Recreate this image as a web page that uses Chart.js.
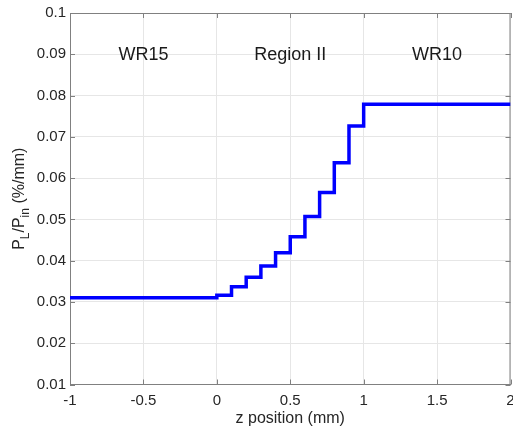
<!DOCTYPE html>
<html>
<head>
<meta charset="UTF-8">
<title>Stepped loss profile</title>
<script src="https://cdn.jsdelivr.net/npm/chart.js"></script>
<style>
  html, body { margin: 0; padding: 0; background: #fff; }
</style>
</head>
<body>
<canvas id="myChart" width="513" height="429"></canvas>
<script>
// data
const zPositions = [-1, 0, 0.1, 0.2, 0.3, 0.4, 0.5, 0.6, 0.7, 0.8, 0.9, 1, 2];
const lossValues = [0.0310, 0.0316, 0.0337, 0.0360, 0.0387, 0.0419, 0.0458, 0.0507, 0.0565, 0.0637, 0.0726, 0.0779, 0.0779];
const xTicks = [-1, -0.5, 0, 0.5, 1, 1.5, 2];
const yTicks = [0.01, 0.02, 0.03, 0.04, 0.05, 0.06, 0.07, 0.08, 0.09, 0.1];
const regionNames = ['WR15', 'Region II', 'WR10'];
const regionCenters = [-0.5, 0.5, 1.5];
const regionLabelLevel = 0.0898;

const FONT = '"Liberation Sans", Arial, Helvetica, sans-serif';
const TXT = '#262626';

// frame, inward ticks and texts (titles with subscripts)
const decorations = {
  id: 'decorations',
  beforeDatasetsDraw(chart) {
    const { ctx, chartArea: a, scales } = chart;
    ctx.save();
    ctx.strokeStyle = '#808080';
    ctx.lineWidth = 1;
    ctx.beginPath();
    ctx.moveTo(a.left, a.top + 0.5); ctx.lineTo(a.right, a.top + 0.5);
    ctx.moveTo(a.right - 0.5, a.top); ctx.lineTo(a.right - 0.5, a.bottom);
    xTicks.forEach(v => {
      const px = Math.round(scales.x.getPixelForValue(v)) + 0.5;
      ctx.moveTo(px, a.bottom); ctx.lineTo(px, a.bottom - 5);
      ctx.moveTo(px, a.top); ctx.lineTo(px, a.top + 5);
    });
    yTicks.forEach(v => {
      const py = Math.round(scales.y.getPixelForValue(v)) + 0.5;
      ctx.moveTo(a.left, py); ctx.lineTo(a.left + 5, py);
      ctx.moveTo(a.right, py); ctx.lineTo(a.right - 5, py);
    });
    ctx.stroke();
    ctx.restore();
  },
  afterDraw(chart) {
    const { ctx, chartArea: a, scales } = chart;
    ctx.save();
    ctx.fillStyle = '#1a1a1a';
    ctx.font = '18px ' + FONT;
    ctx.textAlign = 'center';
    ctx.textBaseline = 'middle';
    regionNames.forEach((name, i) => {
      ctx.fillText(name, scales.x.getPixelForValue(regionCenters[i]), scales.y.getPixelForValue(regionLabelLevel));
    });

    // x title
    ctx.fillStyle = TXT;
    ctx.font = '16px ' + FONT;
    ctx.textBaseline = 'middle';
    ctx.fillText('z position (mm)', (a.left + a.right) / 2, 419);

    // y title: P_L/P_in (%/mm)
    const parts = [
      ['P', 0, 16], ['L', 5, 12], ['/P', 0, 16], ['in', 5, 12], [' (%/mm)', 0, 16]
    ];
    let total = 0;
    parts.forEach(p => { ctx.font = p[2] + 'px ' + FONT; total += ctx.measureText(p[0]).width; });
    ctx.translate(19, (a.top + a.bottom) / 2);
    ctx.rotate(-Math.PI / 2);
    ctx.textAlign = 'left';
    ctx.textBaseline = 'alphabetic';
    let x = -total / 2;
    parts.forEach(p => {
      ctx.font = p[2] + 'px ' + FONT;
      ctx.fillText(p[0], x, 5 + p[1]);
      x += ctx.measureText(p[0]).width;
    });
    ctx.restore();
  }
};

new Chart(document.getElementById('myChart'), {
  type: 'line',
  data: {
    datasets: [{
      data: zPositions.map((z, i) => ({ x: z, y: lossValues[i] })),
      borderColor: '#0000ff',
      borderWidth: 3.5,
      stepped: 'before',
      pointRadius: 0,
      fill: false
    }]
  },
  options: {
    responsive: false,
    animation: false,
    layout: { padding: { top: 13, right: 2.5, left: 0, bottom: 0 } },
    plugins: { legend: { display: false }, tooltip: { enabled: false } },
    scales: {
      x: {
        type: 'linear',
        min: -1, max: 2,
        afterBuildTicks: s => { s.ticks = xTicks.map(v => ({ value: v })); },
        afterFit: s => { s.height = 44.5; s.paddingLeft = 0; s.paddingRight = 0; },
        grid: { color: '#e6e6e6', drawTicks: false },
        border: { display: true, color: '#808080', width: 1 },
        ticks: {
          color: TXT, font: { family: FONT, size: 15 }, padding: 7,
          maxRotation: 0, callback: v => String(v)
        }
      },
      y: {
        min: 0.01, max: 0.1,
        afterBuildTicks: s => { s.ticks = yTicks.map(v => ({ value: v })); },
        afterFit: s => { s.width = 70; s.paddingTop = 0; s.paddingBottom = 0; },
        grid: { color: '#e6e6e6', drawTicks: false },
        border: { display: true, color: '#808080', width: 1 },
        ticks: {
          color: TXT, font: { family: FONT, size: 15 }, padding: 4,
          callback: v => String(Number(v.toFixed(2)))
        }
      }
    }
  },
  plugins: [decorations]
});
</script>
</body>
</html>
